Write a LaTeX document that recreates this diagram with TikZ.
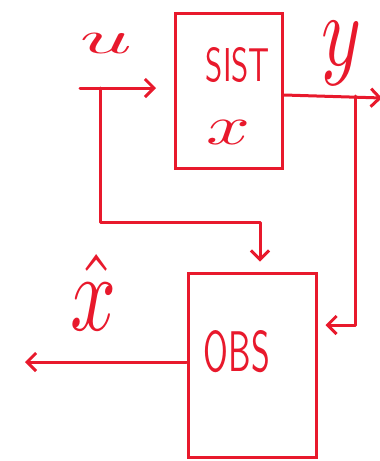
\documentclass[tikz,border=0pt]{standalone}
\usetikzlibrary{arrows.meta}
\definecolor{ink}{HTML}{E8192C}
\begin{document}
\begin{tikzpicture}[x=1pt,y=-1pt,
  wire/.style={draw=ink,line width=3pt,line cap=round,line join=round},
  blk/.style={draw=ink,line width=3pt,rectangle,inner sep=0pt},
  lab/.style={text=ink,inner sep=0pt},
  tip/.style={-{Straight Barb[length=9pt,width=18pt,line width=3pt]}}]
\useasboundingbox (0,0) rectangle (380,461);
% blocks
\node[blk,minimum width=107pt,minimum height=155pt] (sist) at (229,91) {};
\node[blk,minimum width=128pt,minimum height=184pt] (obs) at (252,365) {};
% texts
\node[lab] (tsist) at (238,65) {\resizebox{64pt}{34pt}{\sffamily SIST}};
\node[lab] (tx) at (228,132) {\resizebox{44pt}{24pt}{$x$}};
\node[lab] (tobs) at (237,352) {\resizebox{66pt}{41pt}{\sffamily OBS}};
\node[lab] (tu) at (106,43) {\resizebox{52pt}{20pt}{$u$}};
\node[lab] (ty) at (342,53) {\resizebox{40pt}{44pt}{$y$}};
\node[lab] (txh) at (94,292) {\resizebox{46pt}{76pt}{$\hat{x}$}};
% free ends
\coordinate (uin) at (80,88);
\coordinate (ub) at (100,88);
\coordinate (yout) at (382,98);
\coordinate (yb) at (355,96);
\coordinate (xout) at (25,362);
% connectors
\draw[wire,tip,shorten >=18pt] (uin) -- (sist.west |- uin);
\draw[wire,tip,shorten >=10pt] (ub) -- (100,222) -- (260,222) -- (obs.north -| 260,0);
\draw[wire,tip] (sist.east |- 0,95) -- (yout);
\draw[wire,tip,shorten >=8pt] (yb) -- (355,325) -- (obs.east |- 0,325);
\draw[wire,tip] (obs.west |- 0,362) -- (xout);
\end{tikzpicture}
\end{document}
